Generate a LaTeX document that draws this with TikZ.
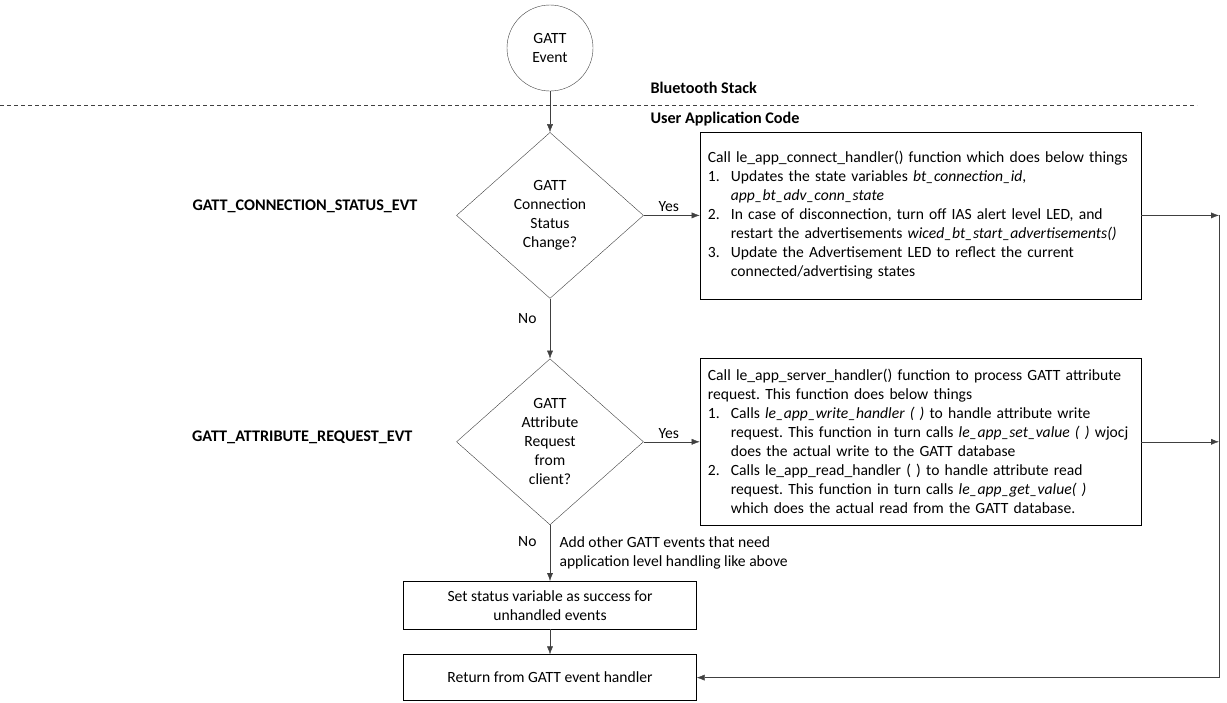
\documentclass[tikz,border=0pt]{standalone}
\usepackage{fontspec}
\setmainfont{Carlito}
\usetikzlibrary{shapes.geometric,positioning,arrows.meta}
\tikzset{>={Latex[length=8pt,width=6pt]}}
\definecolor{linegray}{HTML}{404040}
\newcommand{\itm}[1]{\makebox[23pt][l]{#1}}
\newcommand{\cont}{\hspace*{23pt}}
\frenchspacing

\tikzset{
  decision/.style={diamond, draw=linegray, aspect=1.13, inner sep=0pt,
    minimum width=187pt, minimum height=166pt, align=center},
  process/.style={rectangle, draw=black, align=center, minimum width=293pt},
  listbox/.style={rectangle, draw=black, align=left, text width=425pt,
    inner xsep=8pt, minimum height=167pt},
  flow/.style={->, draw=linegray},
  evlabel/.style={font=\fontsize{16.2}{19}\selectfont\bfseries}
}

\begin{document}
\begin{tikzpicture}[x=1pt,y=-1pt,
  every node/.style={font=\fontsize{15.6}{19}\selectfont}]

  \useasboundingbox (0,0) rectangle (1227,702);

  % Nodes
  \node[circle, draw=linegray, minimum size=86pt, align=center] (event) at (550,48) {GATT\\Event};
  \node[decision, below=41pt of event]  (conn)   {GATT\\Connection\\Status\\Change?};
  \node[decision, below=60pt of conn]   (attr)   {GATT\\Attribute\\Request\\from\\client?};
  \node[listbox, right=56pt of conn]    (connbox) {Call le\_app\_connect\_handler() function which does below things\\
    \itm{1.}Updates the state variables \textit{bt\_connection\_id},\\
    \cont\textit{app\_bt\_adv\_conn\_state}\\
    \itm{2.}In case of disconnection, turn off IAS alert level LED, and\\
    \cont restart the advertisements \textit{wiced\_bt\_start\_advertisements()}\\
    \itm{3.}Update the Advertisement LED to reflect the current\\
    \cont connected/advertising states};
  \node[listbox, right=56pt of attr]    (attrbox) {Call le\_app\_server\_handler() function to process GATT attribute\\
    request. This function does below things\\
    \itm{1.}Calls \textit{le\_app\_write\_handler ( )} to handle attribute write\\
    \cont request. This function in turn calls \textit{le\_app\_set\_value ( )} wjocj\\
    \cont does the actual write to the GATT database\\
    \itm{2.}Calls le\_app\_read\_handler ( ) to handle attribute read\\
    \cont request. This function in turn calls \textit{le\_app\_get\_value( )}\\
    \cont which does the actual read from the GATT database.};
  \node[process, below=56pt of attr, minimum height=48pt] (unhandled) {Set status variable as success for\\unhandled events};
  \node[process, below=25pt of unhandled, minimum height=46pt] (ret) {Return from GATT event handler};

  % Labels
  \node[evlabel, anchor=east] (evconn) at (421,206) {GATT\_CONNECTION\_STATUS\_EVT};
  \node[evlabel, anchor=east] (evattr) at (416,437) {GATT\_ATTRIBUTE\_REQUEST\_EVT};
  \node[evlabel, anchor=west] (stack) at (647,88)  {Bluetooth Stack};
  \node[evlabel, anchor=west] (user)  at (647,119) {User Application Code};

  % Layer separator
  \draw[linegray, dash pattern=on 4pt off 3pt] (0,105) -- (1197,105);

  % Edges
  \coordinate (bus1) at (1219,0 |- connbox.east);
  \coordinate (bus2) at (1219,0 |- attrbox.east);
  \coordinate (bus3) at (1219,0 |- ret.east);
  \draw[flow] (event) -- (conn);
  \draw[flow] (conn) -- node[above, pos=.45] {Yes} (connbox);
  \draw[flow] (conn) -- node[left, pos=.33, xshift=-10pt] {No} (attr);
  \draw[flow] (attr) -- node[above, pos=.45] {Yes} (attrbox);
  \draw[flow] (attr) -- node[left, pos=.3, xshift=-10pt] {No}
    node[right, pos=.5, xshift=6pt, align=left] {Add other GATT events that need\\application level handling like above} (unhandled);
  \draw[flow] (unhandled) -- (ret);
  \draw[flow] (connbox) -- (bus1);
  \draw[flow] (attrbox) -- (bus2);
  \draw[flow] (bus1) -- (bus3) -- (ret.east);
\end{tikzpicture}
\end{document}
